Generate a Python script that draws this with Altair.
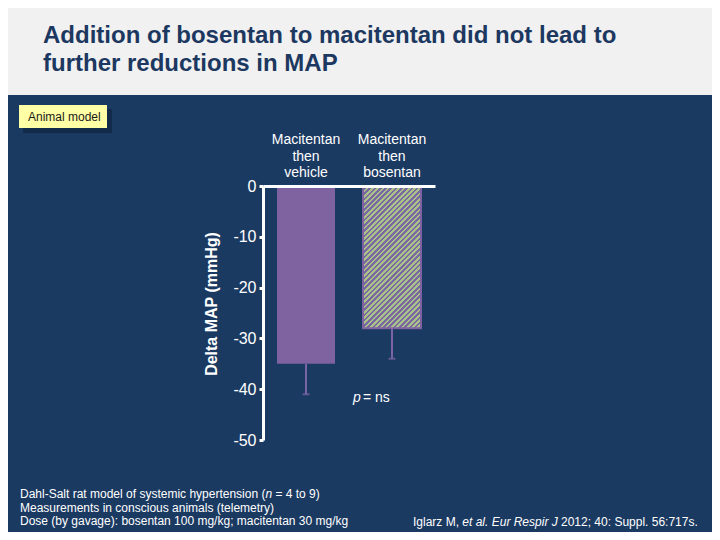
import altair as alt
import pandas as pd

# ---------------- data ----------------
groups = ["Macitentan\nthen\nvehicle", "Macitentan\nthen\nbosentan"]
means = [-35, -28]
lows = [-41, -34]
kinds = ["solid", "hatched"]
y_ticks = [0, -10, -20, -30, -40, -50]
y_domain = [-50, 0]

title_text = "Addition of bosentan to macitentan did not lead to\nfurther reductions in MAP"
tag_text = "Animal model"
y_title = "Delta MAP (mmHg)"
p_italic = "p"
p_rest = "= ns"
foot1 = ["Dahl-Salt rat model of systemic hypertension (", "n", "= 4 to 9)"]
foot2 = "Measurements in conscious animals (telemetry)"
foot3 = "Dose (by gavage): bosentan 100 mg/kg; macitentan 30 mg/kg"
cite = ["Iglarz M,", "et al.", "Eur Respir J", "2012; 40: Suppl. 56:717s."]

# ---------------- style ----------------
BG = "#1b3a62"
HEADER = "#f1f1f1"
TITLE_C = "#1c3860"
PURPLE = "#7f63a1"
GREEN = "#a9c289"
STRIPE_P = "#7b68a0"
ERR = "#7a64a6"
FONT = "Liberation Sans"

W, H = 172, 254
PAD = {"left": 255, "top": 178, "right": 277, "bottom": 92}
P_IN, P_OUT = 0.3256, 0.163

df = pd.DataFrame({"group": groups, "mean": means, "low": lows, "kind": kinds})
one = pd.DataFrame({"k": [0]})

# diagonal hatch as a striped linear gradient (45 degree stripes)
step = W / (len(groups) - P_IN + 2 * P_OUT)
bw = step * (1 - P_IN)
bar_h = abs(means[1]) / (y_domain[1] - y_domain[0]) * H
r = bw / bar_h
s = (1 + r) / (1 + r * r)
N = 38
stops = []
for k in range(N):
    a, b, c = k / N, (k + 0.5) / N, (k + 1) / N
    stops += [
        alt.GradientStop(color=GREEN, offset=a),
        alt.GradientStop(color=GREEN, offset=b),
        alt.GradientStop(color=STRIPE_P, offset=b),
        alt.GradientStop(color=STRIPE_P, offset=c),
    ]
hatch = alt.LinearGradient(gradient="linear", stops=stops, x1=0, y1=0, x2=r * s, y2=s)

xs = alt.Scale(domain=groups, paddingInner=P_IN, paddingOuter=P_OUT)
X = alt.X("group:N", scale=xs,
          axis=alt.Axis(orient="top", labels=False, ticks=False, title=None,
                        domainColor="white", domainWidth=3, zindex=2))
Y = alt.Y("mean:Q", scale=alt.Scale(domain=y_domain, nice=False),
          axis=alt.Axis(values=y_ticks, labelExpr="'' + datum.value", title=None,
                        grid=False, domainColor="white", domainWidth=3,
                        tickColor="white", tickWidth=3, tickSize=4,
                        labelColor="white", labelFontSize=16, labelFont=FONT,
                        labelPadding=3, zindex=2))

base = alt.Chart(df)

bar_solid = base.transform_filter("datum.kind == 'solid'").mark_bar(color=PURPLE).encode(x=X, y=Y)
bar_hatch = base.transform_filter("datum.kind == 'hatched'").mark_bar(
    fill=hatch, stroke=PURPLE, strokeWidth=2).encode(x=X, y=Y)
err = base.mark_rule(color=ERR, strokeWidth=2).encode(x=X, y="mean:Q", y2="low:Q")
cap = base.mark_tick(color=ERR, orient="horizontal", size=7, thickness=2).encode(x=X, y="low:Q")
cat_lab = base.mark_text(lineBreak="\n", align="center", baseline="alphabetic",
                         fontSize=14, lineHeight=16.5, font=FONT, color="white").encode(
    x=X, y=alt.value(-42), text="group:N")


def txt(t, x, y, **kw):
    opts = dict(font=FONT, color="white", align="left", baseline="alphabetic")
    opts.update(kw)
    return alt.Chart(one).mark_text(text=t, **opts).encode(x=alt.value(x), y=alt.value(y))


def box(x, x2, y, y2, **kw):
    return alt.Chart(one).mark_rect(**kw).encode(
        x=alt.value(x), x2=alt.value(x2), y=alt.value(y), y2=alt.value(y2))


header = box(-255, 449, -178, -91, color=HEADER)
title = txt(title_text, -220, -143, color=TITLE_C, fontSize=24, fontWeight="bold",
            lineBreak="\n", lineHeight=28)
shadow = box(-240, -151, -77, -53, color="#0b1a2e", opacity=0.45)
tag_box = box(-244, -156, -81, -58, color="#ffffa6")
tag = txt(tag_text, -235, -65, color="#1a1a1a", fontSize=12)
ytitle = txt(y_title, -51, 118, align="center", baseline="middle", angle=270,
             fontSize=16, fontWeight="bold")
p1 = txt(p_italic, 90, 216, fontSize=14, fontStyle="italic")
p2 = txt(p_rest, 100, 216, fontSize=14)

f1a = txt(foot1[0], -243, 312, fontSize=12)
f1b = txt(foot1[1], 2.4, 312, fontSize=12, fontStyle="italic")
f1c = txt(foot1[2], 12.4, 312, fontSize=12)
f2 = txt(foot2, -243, 326, fontSize=12)
f3 = txt(foot3, -243, 339, fontSize=12)
c1 = txt(cite[0], 150, 340, fontSize=12)
c2 = txt(cite[1], 199.3, 340, fontSize=12, fontStyle="italic")
c3 = txt(cite[2], 228.7, 340, fontSize=12, fontStyle="italic")
c4 = txt(cite[3], 298, 340, fontSize=12)

chart = alt.layer(
    header, title, shadow, tag_box, tag,
    bar_solid, bar_hatch, err, cap, cat_lab, ytitle, p1, p2,
    f1a, f1b, f1c, f2, f3, c1, c2, c3, c4,
).properties(
    width=W, height=H,
    autosize=alt.AutoSizeParams(type="none"),
    padding=PAD,
    background=BG,
).configure_view(strokeWidth=0)

chart.save("out.html", embed_options={"renderer": "svg", "actions": False})
